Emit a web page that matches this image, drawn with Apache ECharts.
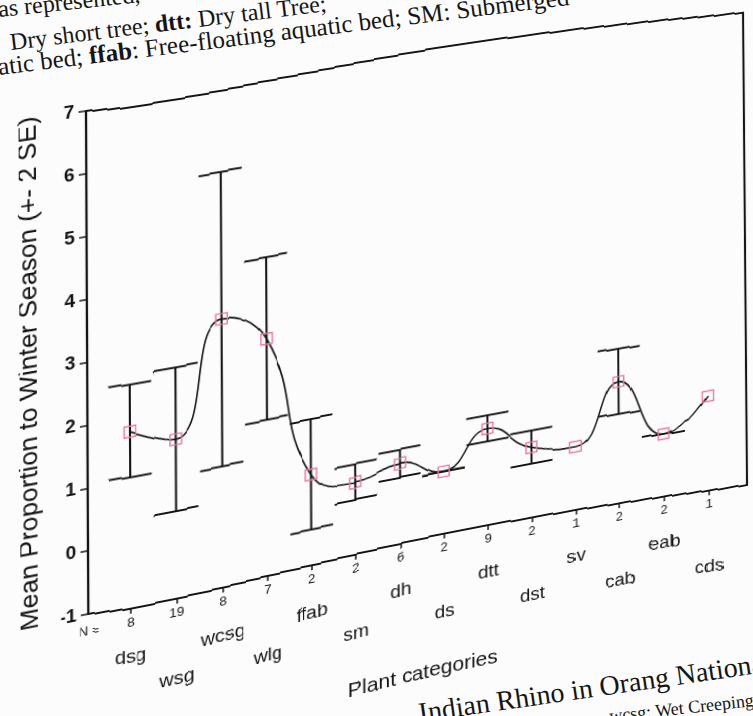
<!DOCTYPE html>
<html>
<head>
<meta charset="utf-8">
<script src="https://cdn.jsdelivr.net/npm/echarts@6/dist/echarts.min.js"></script>
<style>
  html, body { margin: 0; padding: 0; width: 753px; height: 716px; overflow: hidden; background: #fcfcfc; }
  #chart { position: absolute; left: 0; top: 0; width: 820px; height: 820px; transform-origin: 0 0; filter: url(#curl); }
  .page { position: absolute; white-space: nowrap; font-family: "Liberation Serif", "Times New Roman", serif;
          color: #151515; line-height: 1; transform-origin: 0 0.837em; }
</style>
</head>
<body>
<svg width="0" height="0" style="position:absolute">
  <filter id="curl" x="0" y="0" width="820" height="820" filterUnits="userSpaceOnUse"
          primitiveUnits="userSpaceOnUse" color-interpolation-filters="sRGB">
    <feImage id="curlMap" x="0" y="0" width="820" height="820" preserveAspectRatio="none" result="map"/>
    <feDisplacementMap in="SourceGraphic" in2="map" scale="30" xChannelSelector="R" yChannelSelector="G"/>
  </filter>
</svg>

<!-- surrounding page text of the printed figure -->
<div class="page" style="left:-1px; top:-3px; font-size:24px; transform:rotate(-6deg)">as represented,</div>
<div class="page" style="left:11px; top:30px; font-size:24px; transform:rotate(-7deg)">Dry short tree; <b>dtt:</b> Dry tall Tree;</div>
<div class="page" style="left:-1px; top:54px; font-size:25px; transform:rotate(-7deg)">atic bed; <b>ffab</b>: Free-floating aquatic bed; SM: Submerged</div>
<div class="page" style="left:420px; top:699px; font-size:28px; transform:rotate(-8.2deg)">Indian Rhino in Orang National</div>
<div class="page" style="left:610px; top:707px; font-size:18px; transform:rotate(-6.3deg)">wcsg: Wet Creeping</div>

<div id="chart"></div>
<script>
// Plant categories along the x axis and the sample size under each one
const categories = ['dsg', 'wsg', 'wcsg', 'wlg', 'ffab', 'sm', 'dh', 'ds', 'dtt', 'dst', 'sv', 'cab', 'eab', 'cds'];
const sampleSizes = [8, 19, 8, 7, 2, 2, 6, 2, 9, 2, 1, 2, 2, 1];

// Mean proportion to winter season, with the +/- 2 SE limits (null where N = 1)
const meanValues  = [1.82, 1.55, 3.32, 2.83, 0.47, 0.17, 0.31, 0.02, 0.59, 0.16, 0.05, 1.03, 0.05, 0.59];
const lowerLimits = [1.09, 0.40, 0.95, 1.52, -0.42, -0.11, 0.08, 0.02, 0.38, -0.11, null, 0.49, 0.05, null];
const upperLimits = [2.57, 2.70, 5.69, 4.15, 1.37, 0.47, 0.54, 0.02, 0.81, 0.44, null, 1.58, 0.05, null];

// Value axis range
const yMin = -1;
const yMax = 7;
const yStep = 1;

const sansFont = '"Liberation Sans", Arial, Helvetica, sans-serif';
const ink = '#141414';
const markerColor = '#e8799c';

// Plot frame in the flat layout
const frame = { left: 88, top: 111, width: 657, height: 503 };
const insetLeft = 42, insetRight = 38;

const errorData = categories
  .map((c, i) => [i, lowerLimits[i], upperLimits[i]])
  .filter(d => d[1] !== null && d[2] !== null);

const frameAxis = { show: true, type: 'value', min: 0, max: 1,
  axisLine: { show: true, onZero: false, lineStyle: { color: ink, width: 2.2 } },
  axisTick: { show: false }, axisLabel: { show: false }, splitLine: { show: false } };

const chart = echarts.init(document.getElementById('chart'), null, { renderer: 'canvas' });

chart.setOption({
  animation: false,
  backgroundColor: 'transparent',
  grid: [
    { left: frame.left, top: frame.top, width: frame.width, height: frame.height, show: false, outerBoundsMode: 'none' },
    { left: frame.left + insetLeft, top: frame.top, width: frame.width - insetLeft - insetRight,
      height: frame.height, show: false, outerBoundsMode: 'none' }
  ],
  xAxis: [
    Object.assign({ gridIndex: 0, position: 'bottom' }, frameAxis),
    Object.assign({ gridIndex: 0, position: 'top' }, frameAxis),
    {
      gridIndex: 1,
      type: 'category',
      data: categories,
      boundaryGap: false,
      axisLine: { show: false, onZero: false },
      axisTick: { show: true, length: 5, lineStyle: { color: ink, width: 1.5 } },
      axisLabel: {
        interval: 0,
        margin: 4,
        color: ink,
        fontFamily: sansFont,
        formatter: (val, idx) => idx % 2 === 0
          ? '{n|' + sampleSizes[idx] + '}\n{a|' + val + '}'
          : '{n|' + sampleSizes[idx] + '}\n{b|' + val + '}',
        rich: {
          n: { fontSize: 13, lineHeight: 20, fontFamily: sansFont, color: ink },
          a: { fontSize: 19, lineHeight: 50, fontFamily: sansFont, color: ink },
          b: { fontSize: 19, lineHeight: 114, fontFamily: sansFont, color: ink }
        }
      },
      name: 'Plant categories',
      nameLocation: 'middle',
      nameGap: 128,
      nameTextStyle: { fontSize: 21, fontFamily: sansFont, color: ink }
    }
  ],
  yAxis: [
    Object.assign({ gridIndex: 0, position: 'left' }, frameAxis),
    Object.assign({ gridIndex: 0, position: 'right' }, frameAxis),
    {
      gridIndex: 1,
      type: 'value',
      min: yMin,
      max: yMax,
      interval: yStep,
      offset: insetLeft,
      splitLine: { show: false },
      axisLine: { show: false, onZero: false },
      axisTick: { show: true, length: 7, lineStyle: { color: ink, width: 1.5 } },
      axisLabel: { margin: 12, fontSize: 18, fontWeight: 'bold', fontFamily: sansFont, color: ink },
      name: 'Mean Proportion to Winter Season (+- 2 SE)',
      nameLocation: 'middle',
      nameGap: 44,
      nameTextStyle: { fontSize: 26, fontFamily: sansFont, color: ink, padding: [0, 2, 0, 0] }
    }
  ],
  graphic: [
    { type: 'text', x: 99, y: 631,
      style: { text: 'N =', align: 'right', verticalAlign: 'middle', fontSize: 13, fontFamily: sansFont, fill: ink } }
  ],
  series: [
    {
      type: 'custom',
      xAxisIndex: 2,
      yAxisIndex: 2,
      data: errorData,
      encode: { x: 0, y: [1, 2] },
      z: 2,
      renderItem: (params, api) => {
        const i = api.value(0);
        const lo = api.coord([i, api.value(1)]);
        const hi = api.coord([i, api.value(2)]);
        const half = api.size([1, 0])[0] * 0.48;
        const st = { stroke: ink, lineWidth: 2 };
        return {
          type: 'group',
          children: [
            { type: 'line', shape: { x1: lo[0], y1: lo[1], x2: hi[0], y2: hi[1] }, style: st },
            { type: 'line', shape: { x1: hi[0] - half, y1: hi[1], x2: hi[0] + half, y2: hi[1] }, style: st },
            { type: 'line', shape: { x1: lo[0] - half, y1: lo[1], x2: lo[0] + half, y2: lo[1] }, style: st }
          ]
        };
      }
    },
    {
      type: 'line',
      xAxisIndex: 2,
      yAxisIndex: 2,
      data: meanValues,
      smooth: 0.5,
      z: 3,
      symbol: 'rect',
      symbolSize: 11,
      lineStyle: { color: ink, width: 1.6 },
      itemStyle: { color: 'rgba(0,0,0,0)', borderColor: markerColor, borderWidth: 1.4 }
    }
  ]
});

// Projective tilt of the flat chart onto the page
function solveHomography(src, dst) {
  const A = [], b = [];
  for (let k = 0; k < 4; k++) {
    const [x, y] = src[k], [u, v] = dst[k];
    A.push([x, y, 1, 0, 0, 0, -u * x, -u * y]); b.push(u);
    A.push([0, 0, 0, x, y, 1, -v * x, -v * y]); b.push(v);
  }
  const n = 8;
  for (let c = 0; c < n; c++) {
    let p = c;
    for (let r = c + 1; r < n; r++) if (Math.abs(A[r][c]) > Math.abs(A[p][c])) p = r;
    [A[c], A[p]] = [A[p], A[c]];
    [b[c], b[p]] = [b[p], b[c]];
    for (let r = 0; r < n; r++) {
      if (r === c) continue;
      const f = A[r][c] / A[c][c];
      for (let k = c; k < n; k++) A[r][k] -= f * A[c][k];
      b[r] -= f * b[c];
    }
  }
  return b.map((val, k) => val / A[k][k]);
}

const L = frame.left, T = frame.top, R = frame.left + frame.width, B = frame.top + frame.height;
const pageCorners = [[86, 111], [743, 12.7], [747, 485], [88.3, 614]];
const [ha, hb, hc, hd, he, hf, hg, hh] = solveHomography([[L, T], [R, T], [R, B], [L, B]], pageCorners);
const pageX = (u, v) => (ha * u + hb * v + hc) / (hg * u + hh * v + 1);

// Page curl: column lift in pixels and sideways drift, both by page x position
const pageBow = [[0, 0], [88, 0], [130, -3], [177, -2], [223, 0], [268, 3], [312, 5], [356, 7.5], [400, 9.5],
                 [444, 11], [488, 11], [532, 10], [576, 9], [619, 7], [664, 5], [709, 2], [747, 0], [820, 0]];
const pageDrift = [[0, 0], [130, 0], [177, 1.8], [223, 3.5], [268, 4], [312, 3.2], [356, 3], [400, 3],
                   [444, 2], [488, 1.5], [532, 1], [576, 0.5], [619, -0.5], [664, -0.3], [709, 0], [820, 0]];
const warpScale = 30;

function lookup(table, x) {
  if (x <= table[0][0]) return table[0][1];
  for (let k = 0; k < table.length - 1; k++) {
    const [x0, l0] = table[k], [x1, l1] = table[k + 1];
    if (x >= x0 && x <= x1) return l0 + (l1 - l0) * (x - x0) / (x1 - x0);
  }
  return table[table.length - 1][1];
}

(function buildCurlMap() {
  const w = 820, h = 4;
  const X0 = pageX(L, B), X1 = pageX(R, B);
  const cv = document.createElement('canvas');
  cv.width = w; cv.height = h;
  const ctx = cv.getContext('2d');
  const img = ctx.createImageData(w, h);
  for (let u = 0; u < w; u++) {
    const X = pageX(u + 0.5, B);
    // flat column whose content should land on page column X
    const src = L + (X - lookup(pageDrift, X) - X0) / (X1 - X0) * frame.width;
    const dx = src - (u + 0.5);
    const r = Math.round(255 * Math.min(1, Math.max(0, 0.5 + dx / warpScale)));
    const g = Math.round(255 * Math.min(1, Math.max(0, 0.5 + lookup(pageBow, X) / warpScale)));
    for (let y = 0; y < h; y++) {
      const p = (y * w + u) * 4;
      img.data[p] = r; img.data[p + 1] = g; img.data[p + 2] = 128; img.data[p + 3] = 255;
    }
  }
  ctx.putImageData(img, 0, 0);
  const url = cv.toDataURL('image/png');
  const fe = document.getElementById('curlMap');
  fe.setAttribute('href', url);
  fe.setAttributeNS('http://www.w3.org/1999/xlink', 'xlink:href', url);
})();

document.getElementById('chart').style.transform =
  'matrix3d(' + [ha, hd, 0, hg, hb, he, 0, hh, 0, 0, 1, 0, hc, hf, 0, 1].join(',') + ')';
</script>
</body>
</html>
